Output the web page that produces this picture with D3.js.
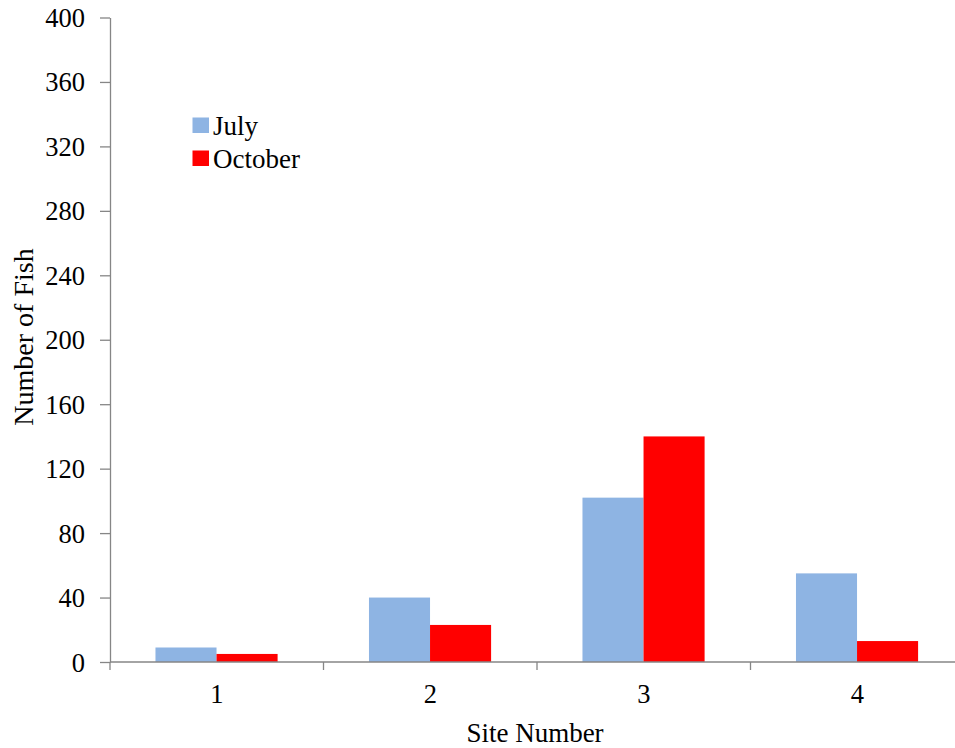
<!DOCTYPE html>
<html>
<head>
<meta charset="utf-8">
<script src="https://cdn.jsdelivr.net/npm/d3@7"></script>
<style>
  html, body { margin: 0; padding: 0; background: #fff; }
  svg { display: block; }
  text { font-family: "Liberation Serif", "Times New Roman", serif; fill: #000; }
</style>
</head>
<body>
<svg id="chart" width="955" height="748"></svg>
<script>
// Fish counts per sampling site, by month
const sites = ["1", "2", "3", "4"];
const seriesNames = ["July", "October"];
const julyCounts = [9, 40, 102, 55];
const octoberCounts = [5, 23, 140, 13];
const yTicks = [0, 40, 80, 120, 160, 200, 240, 280, 320, 360, 400];
const seriesColors = ["#8EB4E3", "#FF0000"];

const svg = d3.select("#chart");
const axisColor = "#868686";
const tickFont = 26.5;
const titleFont = 27;

const plot = { left: 110, right: 964, top: 17.5, bottom: 662 };

const x = d3.scaleBand().domain(sites).range([plot.left, plot.right]).padding(0);
const bw = x.bandwidth();
const xInner = d3.scaleBand().domain(seriesNames).range([bw * 0.213, bw * 0.785]).padding(0);
const y = d3.scaleLinear().domain([0, 400]).range([plot.bottom, plot.top]);
const color = d3.scaleOrdinal().domain(seriesNames).range(seriesColors);

const rows = sites.map((s, i) => ({ site: s, values: [
  { name: "July", value: julyCounts[i] },
  { name: "October", value: octoberCounts[i] }
]}));

// Bars
const groups = svg.append("g").selectAll("g").data(rows).join("g")
  .attr("transform", d => `translate(${x(d.site)},0)`);
groups.selectAll("rect").data(d => d.values).join("rect")
  .attr("x", d => xInner(d.name))
  .attr("width", xInner.bandwidth())
  .attr("y", d => y(d.value))
  .attr("height", d => y(0) - y(d.value))
  .attr("fill", d => color(d.name));

// Y axis
const yAxis = svg.append("g")
  .attr("transform", `translate(${plot.left},0)`)
  .call(d3.axisLeft(y).tickValues(yTicks).tickSize(10).tickSizeOuter(0).tickPadding(15));
yAxis.select(".domain").attr("stroke", axisColor).attr("stroke-width", 1.3);
yAxis.selectAll(".tick line").attr("stroke", axisColor).attr("stroke-width", 1.3);
yAxis.selectAll(".tick text")
  .attr("font-size", tickFont)
  .attr("font-family", "Liberation Serif, serif")
  .attr("fill", "#000")
  .attr("dy", "0.34em");

// X axis with ticks at category boundaries
const xAxis = svg.append("g").attr("transform", `translate(0,${plot.bottom})`);
xAxis.append("line")
  .attr("x1", plot.left).attr("x2", plot.right)
  .attr("stroke", axisColor).attr("stroke-width", 1.3);
const boundaries = sites.map(s => x(s)).concat([x(sites[sites.length - 1]) + bw]);
xAxis.selectAll("line.tick").data(boundaries).join("line")
  .attr("class", "tick")
  .attr("x1", d => d).attr("x2", d => d)
  .attr("y1", 0).attr("y2", 8)
  .attr("stroke", axisColor).attr("stroke-width", 1.3);
xAxis.selectAll("text").data(sites).join("text")
  .attr("x", d => x(d) + bw / 2)
  .attr("y", 41)
  .attr("text-anchor", "middle")
  .attr("font-size", tickFont)
  .text(d => d);

// Axis titles
svg.append("text")
  .attr("x", 535)
  .attr("y", 742)
  .attr("text-anchor", "middle")
  .attr("font-size", titleFont)
  .text("Site Number");

svg.append("text")
  .attr("transform", `translate(33,337) rotate(-90)`)
  .attr("text-anchor", "middle")
  .attr("font-size", 28)
  .text("Number of Fish");

// Legend
const legend = svg.append("g").attr("transform", "translate(192.5,117.5)");
const legendItems = legend.selectAll("g").data(seriesNames).join("g")
  .attr("transform", (d, i) => `translate(0,${i * 33})`);
legendItems.append("rect")
  .attr("width", 16.5).attr("height", 15.5)
  .attr("fill", d => color(d));
legendItems.append("text")
  .attr("x", 20.5).attr("y", 17)
  .attr("font-size", titleFont)
  .text(d => d);
</script>
</body>
</html>
